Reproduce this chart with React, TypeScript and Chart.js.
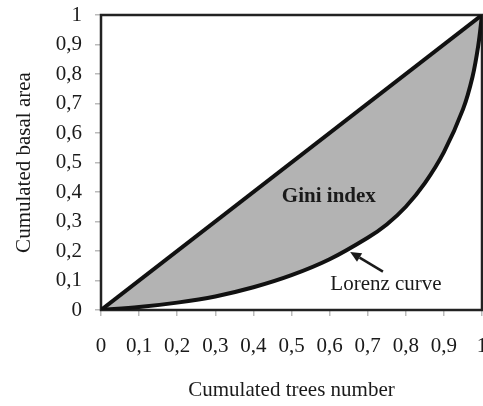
import React, { useEffect, useRef } from "react";
import { Chart, registerables } from "chart.js";

Chart.register(...registerables);

const lorenzX = [0, 0.1, 0.2, 0.3, 0.4, 0.5, 0.6, 0.7, 0.75, 0.8, 0.85, 0.9, 0.95, 0.975, 0.99, 1];
const lorenzY = [0, 0.01, 0.025, 0.046, 0.077, 0.118, 0.172, 0.245, 0.29, 0.35, 0.43, 0.535, 0.68, 0.79, 0.895, 1];
const equalityX = [0, 1];
const equalityY = [0, 1];
const xTickLabels = ["0", "0,1", "0,2", "0,3", "0,4", "0,5", "0,6", "0,7", "0,8", "0,9", "1"];
const yTickLabels = ["0", "0,1", "0,2", "0,3", "0,4", "0,5", "0,6", "0,7", "0,8", "0,9", "1"];
const xTitle = "Cumulated trees number";
const yTitle = "Cumulated basal area";
const giniLabel = { text: "Gini index", x: 0.598, y: 0.383 };
const lorenzLabel = { text: "Lorenz curve", x: 0.748, y: 0.085 };
const arrowFrom = { x: 0.74, y: 0.13 };
const arrowTo = { x: 0.654, y: 0.197 };

const SERIF = '"Liberation Serif", "Times New Roman", serif';

const annotate = {
  id: "annotate",
  beforeDatasetsDraw(chart: any) {
    const { ctx, chartArea } = chart;
    ctx.save();
    ctx.strokeStyle = "#222";
    ctx.lineWidth = 2.5;
    ctx.strokeRect(chartArea.left, chartArea.top, chartArea.right - chartArea.left, chartArea.bottom - chartArea.top);
    ctx.restore();
  },
  afterDatasetsDraw(chart: any) {
    const { ctx, scales } = chart;
    const xs = scales.x, ys = scales.y;
    ctx.save();
    ctx.fillStyle = "#1a1a1a";
    ctx.textAlign = "center";
    ctx.textBaseline = "middle";
    ctx.font = `bold 21px ${SERIF}`;
    ctx.fillText(giniLabel.text, xs.getPixelForValue(giniLabel.x), ys.getPixelForValue(giniLabel.y));
    ctx.font = `21px ${SERIF}`;
    ctx.fillText(lorenzLabel.text, xs.getPixelForValue(lorenzLabel.x), ys.getPixelForValue(lorenzLabel.y));
    const x0 = xs.getPixelForValue(arrowFrom.x), y0 = ys.getPixelForValue(arrowFrom.y);
    const x1 = xs.getPixelForValue(arrowTo.x), y1 = ys.getPixelForValue(arrowTo.y);
    const ang = Math.atan2(y1 - y0, x1 - x0);
    const head = 11;
    const bx = x1 - Math.cos(ang) * head, by = y1 - Math.sin(ang) * head;
    ctx.strokeStyle = "#1a1a1a";
    ctx.lineWidth = 2.5;
    ctx.beginPath();
    ctx.moveTo(x0, y0);
    ctx.lineTo(bx, by);
    ctx.stroke();
    ctx.beginPath();
    ctx.moveTo(x1, y1);
    ctx.lineTo(bx + Math.sin(ang) * 5, by - Math.cos(ang) * 5);
    ctx.lineTo(bx - Math.sin(ang) * 5, by + Math.cos(ang) * 5);
    ctx.closePath();
    ctx.fill();
    ctx.restore();
  },
};

export default function App() {
  const ref = useRef<HTMLCanvasElement | null>(null);
  useEffect(() => {
    if (!ref.current) return;
    const chart = new Chart(ref.current, {
      type: "line",
      data: {
        datasets: [
          {
            label: "Equality",
            data: equalityX.map((x, i) => ({ x, y: equalityY[i] })),
            borderColor: "#111",
            borderWidth: 4,
            pointRadius: 0,
            backgroundColor: "#b3b3b3",
            fill: "+1",
          },
          {
            label: "Lorenz curve",
            data: lorenzX.map((x, i) => ({ x, y: lorenzY[i] })),
            borderColor: "#111",
            borderWidth: 4,
            pointRadius: 0,
            tension: 0.35,
            fill: false,
          },
        ],
      },
      options: {
        responsive: false,
        animation: false,
        layout: { padding: { top: 15, right: 1, left: 0, bottom: 0 } },
        plugins: {
          legend: { display: false },
          tooltip: { enabled: false },
          filler: { drawTime: "beforeDatasetsDraw" },
        },
        scales: {
          x: {
            type: "linear",
            min: 0,
            max: 1,
            border: { display: false },
            grid: { drawOnChartArea: false, tickLength: 6, color: "#bbb", lineWidth: 1.5 },
            ticks: {
              stepSize: 0.1,
              maxRotation: 0,
              autoSkip: false,
              padding: 18,
              color: "#1a1a1a",
              font: { family: SERIF, size: 21 },
              callback: (_v: any, i: number) => xTickLabels[i],
            },
            title: {
              display: true,
              text: xTitle,
              color: "#1a1a1a",
              font: { family: SERIF, size: 21 },
              padding: { top: 0, bottom: 3 },
            },
            afterFit: (s: any) => {
              s.height = 96;
              s.paddingLeft = 0;
              s.paddingRight = 0;
            },
          },
          y: {
            type: "linear",
            min: 0,
            max: 1,
            border: { display: false },
            grid: { drawOnChartArea: false, tickLength: 6, color: "#bbb", lineWidth: 1.5 },
            ticks: {
              stepSize: 0.1,
              autoSkip: false,
              padding: 13,
              color: "#1a1a1a",
              font: { family: SERIF, size: 21 },
              callback: (_v: any, i: number) => yTickLabels[i],
            },
            title: {
              display: true,
              text: yTitle,
              color: "#1a1a1a",
              font: { family: SERIF, size: 21 },
              padding: { top: 12, bottom: 0 },
            },
            afterFit: (s: any) => {
              s.width = 101;
              s.paddingTop = 0;
              s.paddingBottom = 0;
            },
          },
        },
      },
      plugins: [annotate],
    } as any);
    return () => chart.destroy();
  }, []);
  return (
    <div style={{ position: "absolute", left: 0, top: 0, width: 483, height: 406, background: "#fff" }}>
      <canvas ref={ref} width={483} height={406} />
    </div>
  );
}
